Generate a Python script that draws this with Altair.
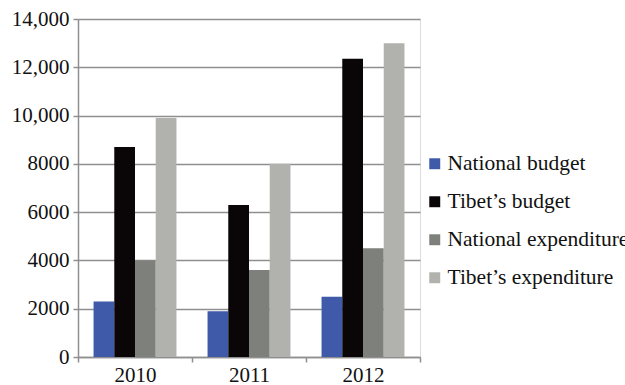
import altair as alt
import pandas as pd

# Annual figures per year and series
years = ["2010", "2011", "2012"]
series = ["National budget", "Tibet\u2019s budget", "National expenditure", "Tibet\u2019s expenditure"]
national_budget = [2300, 1900, 2500]
tibet_budget = [8700, 6300, 12350]
national_expenditure = [4000, 3600, 4500]
tibet_expenditure = [9900, 8000, 13000]
colors = ["#3f5aa9", "#0a0506", "#7e807b", "#b1b2ad"]
y_ticks = [0, 2000, 4000, 6000, 8000, 10000, 12000, 14000]

rows = []
for values, name in zip(
    [national_budget, tibet_budget, national_expenditure, tibet_expenditure], series
):
    for year, v in zip(years, values):
        rows.append({"year": year, "series": name, "value": v})
df = pd.DataFrame(rows)

FONT = "Liberation Serif"

bars = alt.Chart(df).mark_bar().encode(
    x=alt.X(
        "year:N",
        title=None,
        scale=alt.Scale(paddingInner=0, paddingOuter=0),
        axis=alt.Axis(
            labelAngle=0,
            labelFont=FONT,
            labelFontSize=21,
            labelColor="#111111",
            labelPadding=2,
            domainColor="#8f8f8f",
            domainWidth=1.5,
            tickColor="#8f8f8f",
            tickWidth=1.5,
            tickSize=5,
            tickBand="extent",
            grid=False,
        ),
    ),
    xOffset=alt.XOffset(
        "series:N",
        sort=series,
        scale=alt.Scale(paddingInner=0, paddingOuter=0.75),
    ),
    y=alt.Y(
        "value:Q",
        title=None,
        scale=alt.Scale(domain=[0, 14000], nice=False),
        axis=alt.Axis(
            values=y_ticks,
            labelExpr="datum.value >= 10000 ? format(datum.value, ',') : format(datum.value, 'd')",
            labelFont=FONT,
            labelFontSize=21,
            labelColor="#111111",
            labelPadding=4,
            domainColor="#8f8f8f",
            domainWidth=1.5,
            tickColor="#8f8f8f",
            tickWidth=1.5,
            tickSize=5,
            gridColor="#8f8f8f",
            gridWidth=1.5,
        ),
    ),
    color=alt.Color(
        "series:N",
        sort=series,
        scale=alt.Scale(domain=series, range=colors),
        legend=alt.Legend(
            title=None,
            orient="none",
            legendX=346,
            legendY=134,
            symbolType="square",
            symbolSize=120,
            symbolStrokeWidth=0,
            labelFont=FONT,
            labelFontSize=21.5,
            labelColor="#111111",
            labelLimit=0,
            labelOffset=2,
            rowPadding=15,
        ),
    ),
)

chart = bars.properties(
    width=342,
    height=338,
    autosize=alt.AutoSizeParams(type="none"),
    padding={"left": 78, "top": 19, "right": 205, "bottom": 28},
).configure_view(stroke=None).configure(background="white")

chart.save("out.html", embed_options={"renderer": "svg", "actions": False})
